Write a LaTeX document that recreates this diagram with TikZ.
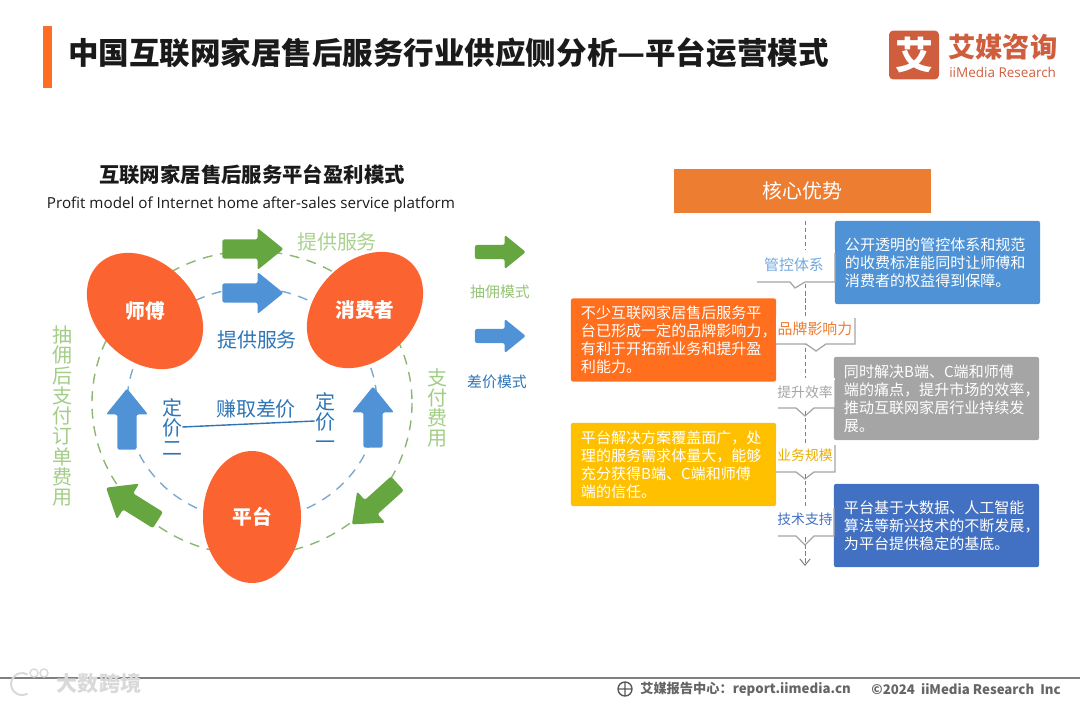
\documentclass[tikz,border=0pt]{standalone}
\usepackage{fontspec}
\usepackage{xcolor}
\usetikzlibrary{arrows.meta,calc,positioning,shapes.arrows,shapes.geometric}
\setmainfont{Noto Sans CJK SC}
\newfontfamily\latinfont{Open Sans}
\definecolor{Ink}{HTML}{1A1A1A}
\definecolor{Muted}{HTML}{7F7F7F}
\definecolor{Blob}{HTML}{FB6431}
\definecolor{Green}{HTML}{66A641}
\definecolor{SoftGreen}{HTML}{A9D18E}
\definecolor{RingGreen}{HTML}{8DB573}
\definecolor{Blue}{HTML}{4F93D6}
\definecolor{DeepBlue}{HTML}{2E75B6}
\definecolor{RingBlue}{HTML}{7EA9CF}
\definecolor{Head}{HTML}{ED7D31}
\definecolor{Hot}{HTML}{FF6F1E}
\definecolor{Sun}{HTML}{FFC000}
\definecolor{Ash}{HTML}{A5A5A5}
\definecolor{Royal}{HTML}{4270C2}
\definecolor{Brand}{HTML}{CF5E3F}
\begin{document}
\begin{tikzpicture}[
  x=0.025cm,y=-0.025cm,
  blob/.style={ellipse, fill=Blob, inner sep=0pt, minimum width=3.3cm, minimum height=2.45cm},
  blobtext/.style={text=white, font=\fontsize{14}{16}\selectfont\bfseries},
  flow/.style={single arrow, inner xsep=0pt, inner ysep=0.2cm, rounded corners=1.5pt, minimum width=1.05cm, minimum height=1.53cm, single arrow tip angle=78},
  legend/.style={single arrow, inner xsep=0pt, inner ysep=0.17cm, rounded corners=1.5pt, minimum width=0.85cm, minimum height=1.27cm, single arrow tip angle=78},
  vtext/.style={align=center, inner sep=0pt, font=\fontsize{14.2}{14.4}\selectfont},
  big/.style={inner sep=0pt, font=\fontsize{14.2}{17}\selectfont},
  small/.style={inner sep=0pt, font=\fontsize{10.6}{13}\selectfont},
  card/.style={rounded corners=1.5pt, minimum width=5.125cm, minimum height=2.08cm, inner xsep=0.25cm, inner ysep=0pt, text width=4.625cm, align=left, text=white, font=\fontsize{10.7}{12.8}\selectfont},
  tag/.style={inner sep=0pt, font=\fontsize{10.6}{13}\selectfont},
  tagsmall/.style={inner sep=0pt, font=\fontsize{9.8}{12}\selectfont},
  tagedge/.style={draw=Muted!70, line width=0.9pt},
  ringg/.style={draw=RingGreen, line width=1pt, dash pattern=on 7pt off 5.5pt},
  ringb/.style={draw=RingBlue, line width=1pt, dash pattern=on 7pt off 5.5pt}
]
  \useasboundingbox (0,0) rectangle (1080,702);

  \fill[Hot!85!Blob] (43,26) rectangle (52,88);
  \node[anchor=west, inner sep=0pt, text=Ink, font=\fontsize{21.7}{25}\selectfont\bfseries] (title) at (68,53) {中国互联网家居售后服务行业供应侧分析—平台运营模式};

  \node[fill=Brand, rounded corners=3pt, minimum width=1.25cm, minimum height=1.22cm, inner sep=0pt, text=white, font=\fontsize{27}{30}\selectfont\bfseries] (logo) at (914,55) {艾};
  \node[anchor=west, inner sep=0pt, text=Brand, font=\fontsize{19.4}{22}\selectfont\bfseries] (brandcn) at (948,47) {艾媒咨询};
  \node[anchor=west, inner sep=0pt, text=Brand, font=\latinfont\fontsize{9.6}{11}\selectfont] (branden) at (949,72) {iiMedia Research};

  \node[inner sep=0pt, text=Ink, font=\fontsize{14.5}{17}\selectfont\bfseries] (subhead) at (252,175) {互联网家居售后服务平台盈利模式};
  \node[inner sep=0pt, text=Ink, font=\latinfont\fontsize{10.8}{14}\selectfont] (subhead2) at (251,205) {Profit model of Internet home after-sales service platform};

  \draw[ringg] (252,403) ellipse [x radius=160, y radius=152];
  \draw[ringb] (252,404) ellipse [x radius=125, y radius=116];

  \node[blob, rotate=-45] (shifu) at (145,311) {};
  \node[blob, rotate=45] (consumer) at (365,310) {};
  \node[blob, rotate=90] (platform) at (252,517) {};
  \node[blobtext] at (shifu) {师傅};
  \node[blobtext] at (consumer) {消费者};
  \node[blobtext] at (platform) {平台};

  \node[flow, fill=Green] (g1) at (247,249) {};
  \node[flow, fill=Blue] (b1) at (247,293) {};
  \node[flow, fill=Blue, rotate=90] (b2) at (127,425) {};
  \node[flow, fill=Blue, rotate=90] (b3) at (373,423) {};
  \node[flow, fill=Green, rotate=148] (g2) at (137,507) {};
  \node[flow, fill=Green, rotate=222] (g3) at (379,500) {};

  \node[big, text=SoftGreen] (servg) at (337,242) {提供服务};
  \node[big, text=DeepBlue] (servb) at (257,340) {提供服务};
  \node[big, text=DeepBlue] (spread) at (256,409) {赚取差价};
  \node[vtext, text=SoftGreen!90!Green] (commission) at (62,416) {抽\\佣\\后\\支\\付\\订\\单\\费\\用};
  \node[vtext, text=SoftGreen!90!Green] (payfee) at (437,408) {支\\付\\费\\用};
  \node[vtext, text=DeepBlue] (priceB) at (172,427) {定\\价\\二};
  \node[vtext, text=DeepBlue] (priceA) at (325,421) {定\\价\\一};
  \draw[draw=DeepBlue, line width=1pt] (priceB.east) -- (priceA.west);

  \node[legend, fill=Green] (legendg) at (496,252) {};
  \node[legend, fill=Blue] (legendb) at (496,336) {};
  \node[small, text=SoftGreen!70!Green] (legendgt) at (500,292) {抽佣模式};
  \node[small, text=DeepBlue] (legendbt) at (497,382) {差价模式};

  \node[fill=Head, minimum width=6.425cm, minimum height=1.1cm, inner sep=0pt, text=white, font=\fontsize{14.2}{17}\selectfont] (core) at (802.5,191) {核心优势};
  \coordinate (axistop) at (805,221);
  \coordinate (axisend) at (805,566);
  \draw[draw=Muted, line width=0.7pt, densely dashed, -{Straight Barb[length=1.6mm,width=2.6mm]}] (axistop) -- (axisend);

  \node[card, fill=Blue] (c1) at (937.5,262.5) {公开透明的管控体系和规范\\的收费标准能同时让师傅和\\消费者的权益得到保障。};
  \node[card, fill=Hot] (c2) at (673.5,340) {不少互联网家居售后服务平\\台已形成一定的品牌影响力，\\有利于开拓新业务和提升盈\\利能力。};
  \node[card, fill=Ash] (c3) at (936.5,398.5) {同时解决B端、C端和师傅\\端的痛点，提升市场的效率，\\推动互联网家居行业持续发\\展。};
  \node[card, fill=Sun] (c4) at (673.5,464.5) {平台解决方案覆盖面广，处\\理的服务需求体量大，能够\\充分获得B端、C端和师傅\\端的信任。};
  \node[card, fill=Royal] (c5) at (936.5,525.5) {平台基于大数据、人工智能\\算法等新兴技术的不断发展，\\为平台提供稳定的基底。};

  \fill[white] (757,250) rectangle (835,282);
  \draw[tagedge] (757,282) -- (790,282) -- (795,288) -- (805,282) -- (835,282) -- (835,253);
  \node[tag, text=Blue!80] (t1) at (794,265) {管控体系};
  \fill[white] (776,316) rectangle (855,344);
  \draw[tagedge] (776,344) -- (806,344) -- (816,351) -- (826,344) -- (855,344) -- (855,318);
  \node[tag, text=Head] (t2) at (815,329) {品牌影响力};
  \fill[white] (778,378) rectangle (835,408);
  \draw[tagedge] (778,408) -- (796,408) -- (805,416) -- (814,408) -- (835,408) -- (835,380);
  \node[tagsmall, text=Ash] (t3) at (805,392) {提升效率};
  \fill[white] (776,443) rectangle (835,472);
  \draw[tagedge] (776,472) -- (796,472) -- (805,479) -- (814,472) -- (835,472) -- (835,445);
  \node[tagsmall, text=Sun!90!Ink] (t4) at (805,455) {业务规模};
  \fill[white] (778,506) rectangle (834,536);
  \draw[tagedge] (778,536) -- (796,536) -- (805,545) -- (814,536) -- (834,536) -- (834,508);
  \node[tagsmall, text=Royal] (t5) at (805,519) {技术支持};

  \draw[draw=Muted, line width=1.1pt] (0,678) -- (1080,678);
  \node[inner sep=0pt, text=gray!30, font=\fontsize{15}{18}\selectfont\bfseries] (mark) at (99,683) {大数跨境};
  \draw[draw=gray!30, line width=1.4pt] (27.5,674.5) arc [start angle=-60, end angle=-300, radius=11];
  \draw[draw=gray!30, line width=1pt] (34,673) circle [radius=4] (44,673) circle [radius=4];

  \draw[draw=Muted!70!black, line width=1pt] (625,689) circle [radius=7] (618,689) -- (632,689) (625,682) -- (625,696);
  \node[anchor=west, inner sep=0pt, text=Muted!80!black, font=\fontsize{9.4}{11}\selectfont\bfseries] (foot1) at (640,689) {艾媒报告中心：report.iimedia.cn};
  \node[anchor=east, inner sep=0pt, text=Muted!80!black, font=\fontsize{9.4}{11}\selectfont\bfseries] (foot2) at (1061,689) {©2024\ \ iiMedia Research\ \ Inc};
\end{tikzpicture}
\end{document}
